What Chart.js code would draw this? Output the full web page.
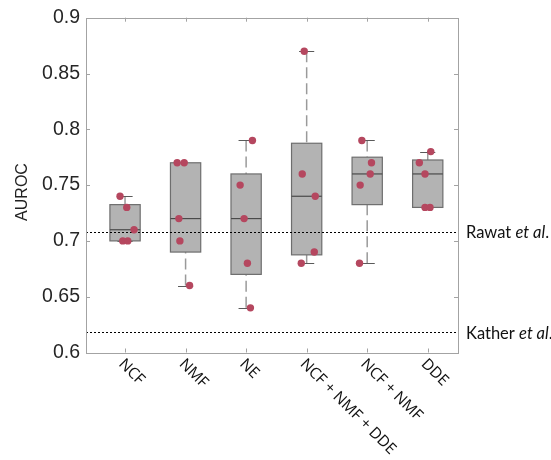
<!DOCTYPE html>
<html><head><meta charset="utf-8">
<script src="https://cdn.jsdelivr.net/npm/chart.js@4/dist/chart.umd.min.js"></script>
<style>html,body{margin:0;padding:0;background:#fff}#wrap{width:551px;height:460px}</style>
</head><body><div id="wrap"><canvas id="c"></canvas></div>
<script>
// ---- data ----
const categories = ['NCF', 'NMF', 'NE', 'NCF + NMF + DDE', 'NCF + NMF', 'DDE'];
const ncf        = [0.74, 0.73, 0.71, 0.70, 0.70];
const nmf        = [0.77, 0.77, 0.72, 0.70, 0.66];
const ne         = [0.79, 0.75, 0.72, 0.68, 0.64];
const ncfNmfDde  = [0.87, 0.76, 0.74, 0.69, 0.68];
const ncfNmf     = [0.79, 0.77, 0.76, 0.75, 0.68];
const dde        = [0.78, 0.77, 0.76, 0.73, 0.73];
// horizontal jitter of the dots (category units)
const jitNcf       = [-0.083, 0.028, 0.149, -0.038, 0.045];
const jitNmf       = [-0.139, -0.023, -0.111, -0.094, 0.066];
const jitNe        = [0.104, -0.099, -0.033, 0.021, 0.071];
const jitNcfNmfDde = [-0.040, -0.073, 0.142, 0.126, -0.089];
const jitNcfNmf    = [-0.088, 0.071, 0.050, -0.116, -0.127];
const jitDde       = [0.050, -0.139, -0.045, -0.045, 0.038];
const yTicks = [0.6, 0.65, 0.7, 0.75, 0.8, 0.85, 0.9];
const refLines = [{label: 'Rawat', value: 0.708}, {label: 'Kather', value: 0.618}];

const series = [ncf, nmf, ne, ncfNmfDde, ncfNmf, dde];
const jitters = [jitNcf, jitNmf, jitNe, jitNcfNmfDde, jitNcfNmf, jitDde];

// MATLAB-style quantile
function quantile(vals, p) {
  const s = [...vals].sort((a, b) => a - b);
  const n = s.length;
  let pos = p * n + 0.5;
  if (pos <= 1) return s[0];
  if (pos >= n) return s[n - 1];
  const lo = Math.floor(pos), f = pos - lo;
  return s[lo - 1] + f * (s[lo] - s[lo - 1]);
}
function boxStats(vals) {
  const q1 = quantile(vals, 0.25), q3 = quantile(vals, 0.75), med = quantile(vals, 0.5);
  const iqr = q3 - q1;
  const hiLim = q3 + 1.5 * iqr, loLim = q1 - 1.5 * iqr;
  const inside = vals.filter(v => v <= hiLim + 1e-9 && v >= loLim - 1e-9);
  return {q1, q3, med, hi: Math.max(...inside), lo: Math.min(...inside)};
}
const stats = series.map(boxStats);

const points = [];
series.forEach((vals, i) => vals.forEach((v, j) => points.push({x: i + 1 + jitters[i][j], y: v})));

const AX = '#a3a3a3';
const boxPlugin = {
  id: 'boxes',
  beforeDatasetsDraw(chart) {
    const {ctx, chartArea: a, scales: {x, y}} = chart;
    ctx.save();
    stats.forEach((s, i) => {
      const c = i + 1;
      const xl = x.getPixelForValue(c - 0.25), xr = x.getPixelForValue(c + 0.25);
      const xc = x.getPixelForValue(c);
      const capL = x.getPixelForValue(c - 0.125), capR = x.getPixelForValue(c + 0.125);
      const yq1 = y.getPixelForValue(s.q1), yq3 = y.getPixelForValue(s.q3);
      // whiskers (dashed)
      ctx.strokeStyle = '#9a9a9a'; ctx.lineWidth = 1.5; ctx.setLineDash([11, 5]);
      ctx.beginPath(); ctx.moveTo(xc, y.getPixelForValue(s.hi)); ctx.lineTo(xc, yq3); ctx.stroke();
      ctx.beginPath(); ctx.moveTo(xc, y.getPixelForValue(s.lo)); ctx.lineTo(xc, yq1); ctx.stroke();
      ctx.setLineDash([]);
      // caps
      ctx.strokeStyle = '#5a5a5a'; ctx.lineWidth = 1;
      [s.hi, s.lo].forEach(v => {
        const yy = Math.round(y.getPixelForValue(v)) + 0.5;
        ctx.beginPath(); ctx.moveTo(capL, yy); ctx.lineTo(capR, yy); ctx.stroke();
      });
      // box
      ctx.fillStyle = '#b3b3b3';
      ctx.fillRect(xl, yq3, xr - xl, yq1 - yq3);
      ctx.strokeStyle = '#6e6e6e'; ctx.lineWidth = 1.2;
      ctx.strokeRect(xl, yq3, xr - xl, yq1 - yq3);
      // median
      const ym = y.getPixelForValue(s.med);
      ctx.strokeStyle = '#4a4a4a'; ctx.lineWidth = 1.2;
      ctx.beginPath(); ctx.moveTo(xl, ym); ctx.lineTo(xr, ym); ctx.stroke();
    });
    // reference lines
    ctx.strokeStyle = '#000'; ctx.lineWidth = 1; ctx.setLineDash([2, 2]);
    refLines.forEach(r => {
      const yy = Math.round(y.getPixelForValue(r.value)) + 0.5;
      ctx.beginPath(); ctx.moveTo(a.left, yy); ctx.lineTo(a.right, yy); ctx.stroke();
    });
    ctx.setLineDash([]);
    ctx.restore();
  },
  afterDraw(chart) {
    const {ctx, chartArea: a, scales: {x, y}} = chart;
    ctx.save();
    // frame
    ctx.strokeStyle = AX; ctx.lineWidth = 1;
    ctx.strokeRect(Math.round(a.left) + 0.5, Math.round(a.top) + 0.5, Math.round(a.right - a.left), Math.round(a.bottom - a.top));
    // y ticks both sides, inward
    yTicks.forEach(v => {
      const yy = Math.round(y.getPixelForValue(v)) + 0.5;
      ctx.beginPath(); ctx.moveTo(a.left, yy); ctx.lineTo(a.left + 4, yy); ctx.stroke();
      ctx.beginPath(); ctx.moveTo(a.right, yy); ctx.lineTo(a.right - 4, yy); ctx.stroke();
    });
    // x ticks top & bottom, inward
    categories.forEach((c, i) => {
      const xx = Math.round(x.getPixelForValue(i + 1)) + 0.5;
      ctx.beginPath(); ctx.moveTo(xx, a.top); ctx.lineTo(xx, a.top + 4); ctx.stroke();
      ctx.beginPath(); ctx.moveTo(xx, a.bottom); ctx.lineTo(xx, a.bottom - 4); ctx.stroke();
    });
    // category labels, rotated 45° clockwise
    ctx.fillStyle = '#111';
    ctx.font = '15.5px "Open Sans"';
    ctx.textAlign = 'left'; ctx.textBaseline = 'middle';
    categories.forEach((c, i) => {
      const xx = x.getPixelForValue(i + 1);
      ctx.save();
      ctx.translate(xx - 4, a.bottom + 9);
      ctx.rotate(Math.PI / 4);
      ctx.fillText(c, 0, 0);
      ctx.restore();
    });
    // reference line labels
    ctx.fillStyle = '#111';
    refLines.forEach(r => {
      const yy = y.getPixelForValue(r.value) + 1;
      let xx = a.right + 8;
      ctx.font = '16.5px Lato';
      const t1 = r.label + ' ';
      ctx.fillText(t1, xx, yy);
      xx += ctx.measureText(t1).width;
      ctx.font = 'italic 16.5px Lato';
      ctx.fillText('et al', xx, yy);
      xx += ctx.measureText('et al').width;
      ctx.font = '16.5px Lato';
      ctx.fillText('.', xx, yy);
    });
    // y title
    ctx.fillStyle = '#222';
    ctx.font = '16px "Liberation Sans"';
    ctx.textAlign = 'center';
    ctx.textBaseline = 'alphabetic';
    ctx.save();
    ctx.translate(27, 192);
    ctx.rotate(-Math.PI / 2);
    ctx.fillText('AUROC', 0, 0);
    ctx.restore();
    ctx.restore();
  }
};

new Chart(document.getElementById('c'), {
  type: 'scatter',
  data: {
    datasets: [{
      data: points,
      backgroundColor: '#b5475f',
      borderWidth: 0,
      pointRadius: 3.7,
      pointHoverRadius: 3.7
    }]
  },
  options: {
    responsive: true,
    maintainAspectRatio: false,
    animation: false,
    events: [],
    layout: {padding: {top: 17, right: 93, left: 0, bottom: 0}},
    plugins: {legend: {display: false}, tooltip: {enabled: false}},
    scales: {
      x: {
        type: 'linear', min: 0.355, max: 6.5,
        grid: {display: false}, border: {display: false},
        ticks: {display: false},
        afterFit(s) { s.height = 107.5; }
      },
      y: {
        type: 'linear', min: 0.6, max: 0.9,
        afterBuildTicks(s) { s.ticks = yTicks.map(v => ({value: v})); },
        grid: {display: false, drawTicks: false}, border: {display: false},
        ticks: {
          font: {family: '"Liberation Sans"', size: 19.5},
          color: '#262626',
          padding: 6,
          callback: v => String(+v.toFixed(2))
        },
        afterFit(s) { s.width = 86; }
      }
    }
  },
  plugins: [boxPlugin]
});
</script>
</body></html>
